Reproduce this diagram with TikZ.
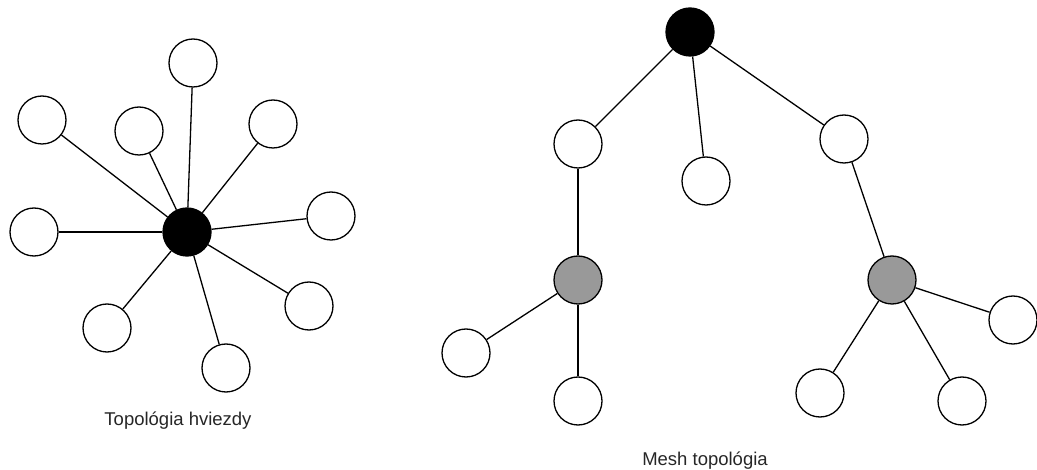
\documentclass[tikz,border=0pt]{standalone}
\usepackage{fontspec}
\setmainfont{Liberation Sans}
\begin{document}
\begin{tikzpicture}[x=1pt,y=-1pt,
  nd/.style={circle,draw=black,line width=1.3pt,minimum size=48pt,inner sep=0pt,fill=white},
  hub/.style={nd,fill=black},
  sub/.style={nd,fill=gray!80!white},
  edge/.style={line width=1.3pt},
  lbl/.style={font=\fontsize{18.5}{20}\selectfont,text=black!85,anchor=base}]
\path[use as bounding box] (0,0) rectangle (1037,470);
% star topology
\node[hub] (c) at (187,232) {};
\node[nd] (s1) at (193,63) {};
\node[nd] (s2) at (42,120) {};
\node[nd] (s3) at (139,131) {};
\node[nd] (s4) at (273,124) {};
\node[nd] (s5) at (331,216) {};
\node[nd] (s6) at (34,232) {};
\node[nd] (s7) at (309,306) {};
\node[nd] (s8) at (107,328) {};
\node[nd] (s9) at (226,368) {};
\foreach \n in {s1,s2,s3,s4,s5,s6,s7,s8,s9} \draw[edge] (c) -- (\n);
\node[lbl] (l1) at (178,426) {Topológia hviezdy};
% mesh topology
\node[hub] (r) at (690,32) {};
\node[nd] (a) at (578,144) {};
\node[nd] (b) at (706,181) {};
\node[nd] (d) at (844,139) {};
\node[sub] (g1) at (578,280) {};
\node[sub] (g2) at (892,280) {};
\node[nd] (a1) at (466,353) {};
\node[nd] (a2) at (578,401) {};
\node[nd] (b1) at (1013,320) {};
\node[nd] (b2) at (820,393) {};
\node[nd] (b3) at (962,401) {};
\draw[edge] (r) -- (a);
\draw[edge] (r) -- (b);
\draw[edge] (r) -- (d);
\draw[edge] (a) -- (g1);
\draw[edge] (d) -- (g2);
\draw[edge] (g1) -- (a1);
\draw[edge] (g1) -- (a2);
\draw[edge] (g2) -- (b1);
\draw[edge] (g2) -- (b2);
\draw[edge] (g2) -- (b3);
\node[lbl] (l2) at (705,465) {Mesh topológia};
\end{tikzpicture}
\end{document}
